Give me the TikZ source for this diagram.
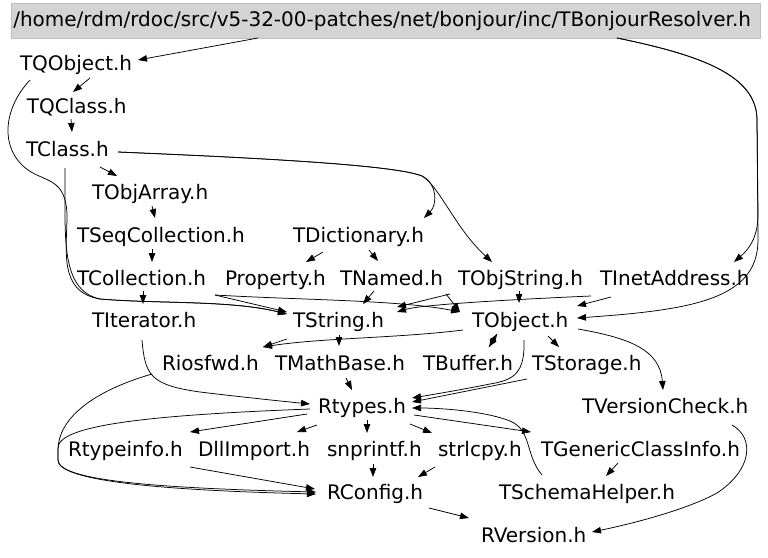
\documentclass[tikz,border=0pt]{standalone}
\usepackage{fontspec}
\setmainfont{DejaVu Sans}
\usetikzlibrary{arrows.meta}
\begin{document}
\begin{tikzpicture}[x=1pt,y=-1pt,
  lbl/.style={anchor=text, inner xsep=3pt, inner ysep=2pt, text height=15pt, text depth=4.5pt, font=\fontsize{20}{24}\selectfont},
  e/.style={-{Triangle[length=9pt,width=6.5pt]}, line width=0.75pt},
  rootbox/.style={fill=black!17, draw=black!25, line width=0.6pt, minimum height=35pt, anchor=north west, inner xsep=2pt, inner ysep=0pt, text height=15pt, text depth=4.5pt, font=\fontsize{20}{24}\selectfont}]
\useasboundingbox (0,0) rectangle (768,557);
\node[rootbox] (title) at (11,3) {\makebox[745pt][l]{/home/rdm/rdoc/src/v5-32-00-patches/net/bonjour/inc/TBonjourResolver.h}};
\node[lbl] (tqobject) at (20,70) {TQObject.h};
\node[lbl] (tqclass) at (27,113) {TQClass.h};
\node[lbl] (tclass) at (26,156) {TClass.h};
\node[lbl] (tobjarray) at (92,199) {TObjArray.h};
\node[lbl] (tseqcoll) at (77,242) {TSeqCollection.h};
\node[lbl] (tdict) at (293,242) {TDictionary.h};
\node[lbl] (tcoll) at (77,285) {TCollection.h};
\node[lbl] (property) at (225,285) {Property.h};
\node[lbl] (tnamed) at (340,285) {TNamed.h};
\node[lbl] (tobjstring) at (458,285) {TObjString.h};
\node[lbl] (tinet) at (600,285) {TInetAddress.h};
\node[lbl] (titerator) at (92,327) {TIterator.h};
\node[lbl] (tstring) at (293,327) {TString.h};
\node[lbl] (tobject) at (472,327) {TObject.h};
\node[lbl] (riosfwd) at (162,370) {Riosfwd.h};
\node[lbl] (tmathbase) at (275,370) {TMathBase.h};
\node[lbl] (tbuffer) at (423,370) {TBuffer.h};
\node[lbl] (tstorage) at (532,370) {TStorage.h};
\node[lbl] (rtypes) at (318,413) {Rtypes.h};
\node[lbl] (tversion) at (582,413) {TVersionCheck.h};
\node[lbl] (rtypeinfo) at (68,456) {Rtypeinfo.h};
\node[lbl] (dllimport) at (198,456) {DllImport.h};
\node[lbl] (snprintf) at (327,456) {snprintf.h};
\node[lbl] (strlcpy) at (438,456) {strlcpy.h};
\node[lbl] (tgeneric) at (541,456) {TGenericClassInfo.h};
\node[lbl] (rconfig) at (327,499) {RConfig.h};
\node[lbl] (tschema) at (499,499) {TSchemaHelper.h};
\node[lbl] (rversion) at (481,542) {RVersion.h};

% root edges
\draw[e] ([shift={(247,35)}]title.north west) -- ([shift={(118,-10)}]tqobject.text);
\draw[e] ([shift={(606,35)}]title.north west) .. controls (700,55) and (757,75) .. (757,120) -- (758,215) .. controls (758,238) and (748,250) .. ([shift={(134,-23)}]tinet.text);
\draw[e] ([shift={(606,35)}]title.north west) .. controls (700,55) and (757,75) .. (757,120) -- (758,240) .. controls (758,300) and (690,310) .. ([shift={(105,-9)}]tobject.text);
% upper chain
\draw[e] ([shift={(70,8)}]tqobject.text) -- ([shift={(46,-21)}]tqclass.text);
\draw[e] ([shift={(44,6)}]tqclass.text) -- ([shift={(46,-24)}]tclass.text);
\draw[e] ([shift={(74,11)}]tclass.text) -- ([shift={(25,-23)}]tobjarray.text);
\draw[e] ([shift={(92,-4)}]tclass.text) .. controls (260,158) and (395,165) .. (422,176) .. controls (438,184) and (437,205) .. ([shift={(131,-24)}]tdict.text);
\draw[e] ([shift={(92,-4)}]tclass.text) .. controls (260,158) and (395,165) .. (422,176) .. controls (440,187) and (455,228) .. ([shift={(34,-23)}]tobjstring.text);
\draw[e] ([shift={(39,12)}]tclass.text) .. controls (66,230) and (58,290) .. (100,299) .. controls (160,304) and (230,300) .. ([shift={(-6,-13)}]tstring.text);
\draw[e] ([shift={(10,10)}]tqobject.text) .. controls (2,110) and (0,150) .. (28,170) .. controls (45,182) and (66,178) .. (67,215) .. controls (67,250) and (58,292) .. (100,299) .. controls (160,304) and (230,300) .. ([shift={(-6,-13)}]tstring.text);
\draw[e] ([shift={(60,7)}]tobjarray.text) -- ([shift={(78,-24)}]tseqcoll.text);
\draw[e] ([shift={(75,7)}]tseqcoll.text) -- ([shift={(75,-23)}]tcoll.text);
\draw[e] ([shift={(66,6)}]tcoll.text) -- ([shift={(51,-23)}]titerator.text);
\draw[e] ([shift={(138,10)}]tcoll.text) -- ([shift={(-6,-15)}]tstring.text);
\draw[e] ([shift={(138,10)}]tcoll.text) .. controls (300,300) and (400,300) .. ([shift={(-12,-15)}]tobject.text);
\draw[e] ([shift={(30,10)}]tdict.text) -- ([shift={(81,-23)}]property.text);
\draw[e] ([shift={(76,8)}]tdict.text) -- ([shift={(38,-24)}]tnamed.text);
\draw[e] ([shift={(34,6)}]tnamed.text) -- ([shift={(70,-23)}]tstring.text);
\draw[e] ([shift={(106,9)}]tnamed.text) -- ([shift={(-12,-15)}]tobject.text);
\draw[e] ([shift={(-8,9)}]tobjstring.text) -- ([shift={(104,-20)}]tstring.text);
\draw[e] ([shift={(61,6)}]tobjstring.text) -- ([shift={(47,-24)}]tobject.text);
\draw[e] ([shift={(-9,11)}]tinet.text) .. controls (500,300) and (420,305) .. ([shift={(104,-15)}]tstring.text);
\draw[e] ([shift={(11,12)}]tinet.text) -- ([shift={(105,-21)}]tobject.text);
% middle
\draw[e] ([shift={(-6,12)}]tstring.text) -- ([shift={(101,-23)}]riosfwd.text);
\draw[e] ([shift={(-9,3)}]tobject.text) .. controls (400,338) and (320,338) .. ([shift={(101,-23)}]riosfwd.text);
\draw[e] ([shift={(46,8)}]tstring.text) -- ([shift={(64,-24)}]tmathbase.text);
\draw[e] ([shift={(71,8)}]tmathbase.text) -- ([shift={(34,-23)}]rtypes.text);
\draw[e] ([shift={(25,7)}]tobject.text) -- ([shift={(66,-23)}]tbuffer.text);
\draw[e] ([shift={(66,-23)}]tbuffer.text) -- ([shift={(25,7)}]tobject.text);
\draw[e] ([shift={(76,9)}]tobject.text) -- ([shift={(27,-23)}]tstorage.text);
\draw[e] ([shift={(52,13)}]tobject.text) .. controls (525,372) and (515,380) .. (490,384) .. controls (460,390) and (430,395) .. ([shift={(94,-15)}]rtypes.text);
\draw[e] ([shift={(-5,9)}]tstorage.text) -- ([shift={(94,-11)}]rtypes.text);
\draw[e] ([shift={(106,2)}]tobject.text) .. controls (630,338) and (660,350) .. ([shift={(81,-23)}]tversion.text);
\draw[e] ([shift={(50,13)}]titerator.text) .. controls (145,375) and (150,385) .. (200,392) .. controls (250,398) and (290,402) .. ([shift={(-8,-9)}]rtypes.text);
% lower
\draw[e] ([shift={(-10,4)}]riosfwd.text) .. controls (90,392) and (58,420) .. (58,450) -- (58,460) .. controls (58,480) and (150,488) .. ([shift={(-11,-7)}]rconfig.text);
\draw[e] ([shift={(-8,-4)}]rtypes.text) .. controls (150,415) and (58,425) .. (58,448) -- (58,460) .. controls (58,480) and (150,490) .. ([shift={(-11,-5)}]rconfig.text);
\draw[e] ([shift={(-11,1)}]rtypes.text) -- ([shift={(122,-24)}]rtypeinfo.text);
\draw[e] ([shift={(-1,12)}]rtypes.text) -- ([shift={(99,-24)}]dllimport.text);
\draw[e] ([shift={(49,7)}]rtypes.text) -- ([shift={(40,-23)}]snprintf.text);
\draw[e] ([shift={(92,11)}]rtypes.text) -- ([shift={(-6,-23)}]strlcpy.text);
\draw[e] ([shift={(96,2)}]rtypes.text) -- ([shift={(-10,-24)}]tgeneric.text);
\draw[e] ([shift={(43,-24)}]tschema.text) .. controls (525,455) and (532,430) .. (510,421) .. controls (485,411) and (440,408) .. ([shift={(94,-5)}]rtypes.text);
\draw[e] ([shift={(77,7)}]tgeneric.text) -- ([shift={(107,-23)}]tschema.text);
\draw[e] ([shift={(46,8)}]snprintf.text) -- ([shift={(46,-22)}]rconfig.text);
\draw[e] ([shift={(-3,11)}]strlcpy.text) -- ([shift={(91,-22)}]rconfig.text);
\draw[e] ([shift={(122,11)}]rtypeinfo.text) -- ([shift={(-12,-10)}]rconfig.text);
\draw[e] ([shift={(102,9)}]rconfig.text) -- ([shift={(-12,-24)}]rversion.text);
\draw[e] ([shift={(150,12)}]tversion.text) .. controls (755,438) and (752,470) .. (717,493) .. controls (690,508) and (640,522) .. ([shift={(111,-10)}]rversion.text);
\end{tikzpicture}
\end{document}
